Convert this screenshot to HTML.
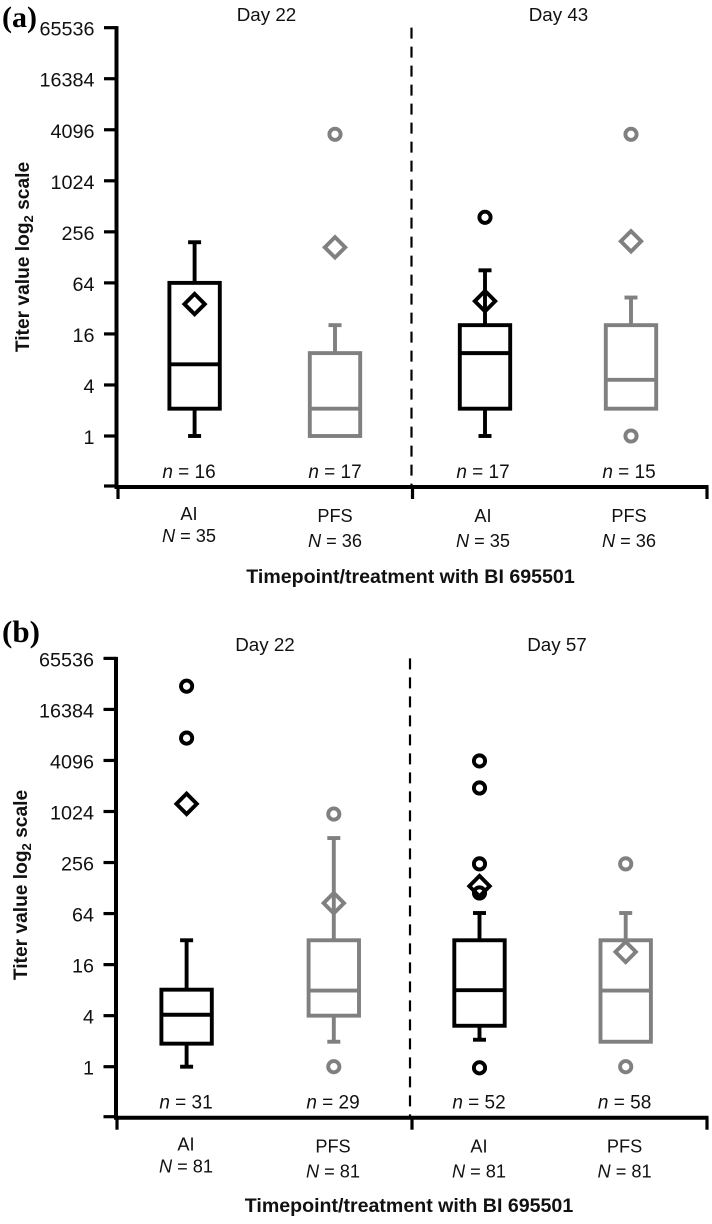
<!DOCTYPE html>
<html lang="en">
<head>
<meta charset="utf-8">
<title>Titer values by timepoint and treatment</title>
<style>
html,body{margin:0;padding:0;background:#fff;width:712px;height:1224px;overflow:hidden}
svg{display:block}
text{font-family:"Liberation Sans",Arial,sans-serif;fill:#111}
</style>
</head>
<body>
<svg id="figure" xmlns="http://www.w3.org/2000/svg" width="712" height="1224" viewBox="0 0 712 1224"></svg>
<script>
// ---- shared data ----
const tickValues = [65536, 16384, 4096, 1024, 256, 64, 16, 4, 1];
const treatments = ['AI', 'PFS', 'AI', 'PFS'];
const seriesTone = ['black', 'gray', 'black', 'gray'];

// ---- panel (a) ----
const aDays = ['Day 22', 'Day 43'];
const aSmallN = [16, 17, 17, 15];
const aBigN = [35, 36, 35, 36];
const aWhiskerLow = [1, 1, 1, 2.1];
const aQ1 = [2.1, 1, 2.1, 2.1];
const aMedian = [7, 2.1, 9.5, 4.6];
const aQ3 = [64, 9.5, 20.3, 20.3];
const aWhiskerHigh = [193, 20.3, 90, 43];
const aMean = [36, 168, 39, 198];
const aOutliers = [[], [3620], [380], [3620, 1]];

// ---- panel (b) ----
const bDays = ['Day 22', 'Day 57'];
const bSmallN = [31, 29, 52, 58];
const bBigN = [81, 81, 81, 81];
const bWhiskerLow = [1, 1.97, 2.08, 1.97];
const bQ1 = [1.87, 4, 3.04, 1.97];
const bMedian = [4.1, 7.9, 8, 7.9];
const bQ3 = [8.1, 31, 31, 31];
const bWhiskerHigh = [31, 498, 65, 65];
const bMean = [1260, 85, 135, 22.6];
const bOutliers = [[30800, 7520], [955, 1], [4040, 1940, 247, 112, 0.97], [247, 1]];

const NS = 'http://www.w3.org/2000/svg';
const svg = document.getElementById('figure');
const BLACK = '#000', GRAY = '#808080', SW = 3.9;

function mk(parent, tag, attrs, txt) {
  const el = document.createElementNS(NS, tag);
  for (const k in attrs) el.setAttribute(k, attrs[k]);
  if (txt !== undefined) el.textContent = txt;
  parent.appendChild(el);
  return el;
}

function yScale(v, p) { return p.yOne - 25.52 * Math.log2(v); }
function xScale(i, p) {
  const offsets = p.id === 'a' ? [3, -3.8, -1, -2.2] : [-4, -4, -5.5, -6.5];
  return p.xLeft + 147.2 * (i + 0.5) + offsets[i];
}
function labelX(i, p) {
  const offsets = p.id === 'a' ? [-2.6, -3.8, -3, -4.2] : [-4.6, -4.8, -6, -7.6];
  return p.xLeft + 147.2 * (i + 0.5) + offsets[i];
}

function drawPanel(p) {
  const g = mk(svg, 'g', {});
  
  

  const panelLabel = mk(g, 'text', {x: 2, y: p.labelY, style: 'font-family:"Liberation Serif",serif;font-weight:bold;font-size:' + p.labelSize + 'px;fill:#000'}, '(' + p.id + ')');
  
  

  // y axis
  const bottomY = p.yOne + 50;
  const yAxis = mk(g, 'line', {x1: p.yAxisX, x2: p.yAxisX, y1: yScale(65536, p) - 1.5, y2: bottomY + 2, stroke: BLACK, 'stroke-width': 4});
  
  

  tickValues.forEach(function (v) {
    const y = yScale(v, p);
    const tick = mk(g, 'line', {x1: p.yAxisX - 12.5, x2: p.yAxisX, y1: y, y2: y, stroke: BLACK, 'stroke-width': 3.2});
    
    
    const lab = mk(g, 'text', {x: p.yAxisX - 22, y: y + 8, 'text-anchor': 'end', 'font-size': 19.8}, String(v));
    
    
  });
  const baseTick = mk(g, 'line', {x1: p.yAxisX - 12.5, x2: p.yAxisX, y1: bottomY, y2: bottomY, stroke: BLACK, 'stroke-width': 3.2});
  
  

  // x axis
  const xAxis = mk(g, 'line', {x1: p.yAxisX - 2, x2: p.xRight + 1.5, y1: bottomY + 1, y2: bottomY + 1, stroke: BLACK, 'stroke-width': 4});
  
  
  [p.xLeft, (p.xLeft + p.xRight) / 2, p.xRight].forEach(function (x) {
    const tick = mk(g, 'line', {x1: x, x2: x, y1: bottomY + 1, y2: bottomY + 13, stroke: BLACK, 'stroke-width': 3.2});
    
    
  });

  // divider
  const divider = mk(g, 'line', {x1: p.dividerX, x2: p.dividerX, y1: yScale(65536, p), y2: bottomY + 1, stroke: BLACK, 'stroke-width': 2.2, 'stroke-dasharray': '11 8'});
  
  

  // day labels
  p.days.forEach(function (d, i) {
    const dl = mk(g, 'text', {x: p.dayX + i * 292, y: p.dayY, 'text-anchor': 'middle', 'font-size': 18.8}, d);
    
    
  });

  // y title
  const yTitle = mk(g, 'text', {transform: 'translate(' + p.yTitleX + ',' + p.titleMid + ') rotate(-90)', 'text-anchor': 'middle', 'font-size': 19.2, 'font-weight': 'bold'});
  
  
  mk(yTitle, 'tspan', {}, 'Titer value log');
  mk(yTitle, 'tspan', {dy: 4, 'font-size': 13}, '2');
  mk(yTitle, 'tspan', {dy: -4}, ' scale');

  // x title
  const xTitle = mk(g, 'text', {x: p.xTitleX, y: p.xTitleY, 'text-anchor': 'middle', 'font-size': 19.6, 'font-weight': 'bold'}, 'Timepoint/treatment with BI 695501');
  
  

  // categories
  treatments.forEach(function (name, i) {
    const color = seriesTone[i] === 'black' ? BLACK : GRAY;
    const cx = xScale(i, p);
    const box = mk(g, 'g', {fill: 'none', stroke: color, 'stroke-width': SW});
    
    

    const yLo = yScale(p.wLow[i], p), yHi = yScale(p.wHigh[i], p);
    const y1 = yScale(p.q1[i], p), y3 = yScale(p.q3[i], p), yM = yScale(p.median[i], p);

    const upper = mk(box, 'line', {x1: cx, x2: cx, y1: y3, y2: yHi});
    
    
    const lower = mk(box, 'line', {x1: cx, x2: cx, y1: y1, y2: yLo});
    
    
    if (p.wHigh[i] > p.q3[i]) {
      const capH = mk(box, 'line', {x1: cx - 6.5, x2: cx + 6.5, y1: yHi, y2: yHi});
      
      
    }
    if (p.wLow[i] < p.q1[i]) {
      const capL = mk(box, 'line', {x1: cx - 6.5, x2: cx + 6.5, y1: yLo, y2: yLo});
      
      
    }

    const rect = mk(box, 'rect', {x: cx - 25.2, y: y3, width: 50.4, height: y1 - y3, fill: '#fff'});
    
    
    const med = mk(box, 'line', {x1: cx - 25.2, x2: cx + 25.2, y1: yM, y2: yM});
    
    

    p.outliers[i].forEach(function (v) {
      const c = mk(box, 'circle', {cx: cx, cy: yScale(v, p), r: 5.6, fill: 'none'});
      
      
    });

    const ym = yScale(p.mean[i], p), d = 10.2;
    const dia = mk(box, 'polygon', {points: [cx, ym - d, cx + d, ym, cx, ym + d, cx - d, ym].join(' '), fill: 'none'});
    
    

    const lx = labelX(i, p);
    const nText = mk(g, 'text', {x: lx, y: bottomY - 8, 'text-anchor': 'middle', 'font-size': 19}, '');
    
    
    mk(nText, 'tspan', {'font-style': 'italic'}, 'n');
    mk(nText, 'tspan', {}, ' = ' + p.smallN[i]);

    const isFirst = i === 0;
    const cat = mk(g, 'text', {x: lx, y: bottomY + (isFirst ? 34 : 36), 'text-anchor': 'middle', 'font-size': 18.2}, name);
    
    
    const bigN = mk(g, 'text', {x: lx, y: bottomY + (isFirst ? 56 : 61), 'text-anchor': 'middle', 'font-size': 18.2}, '');
    
    
    mk(bigN, 'tspan', {'font-style': 'italic'}, 'N');
    mk(bigN, 'tspan', {}, ' = ' + p.bigN[i]);
  });
}

drawPanel({id: 'a', yOne: 436, yAxisX: 116.5, xLeft: 118, xRight: 707, dividerX: 411.5,
  labelY: 27, labelSize: 30, dayX: 266.5, dayY: 21, yTitleX: 29, titleMid: 257, xTitleX: 410.5, xTitleY: 583,
  days: aDays, smallN: aSmallN, bigN: aBigN, wLow: aWhiskerLow, q1: aQ1, median: aMedian,
  q3: aQ3, wHigh: aWhiskerHigh, mean: aMean, outliers: aOutliers});

drawPanel({id: 'b', yOne: 1066.7, yAxisX: 116, xLeft: 117, xRight: 707, dividerX: 410,
  labelY: 642, labelSize: 31, dayX: 265, dayY: 651, yTitleX: 27, titleMid: 885, xTitleX: 409, xTitleY: 1212,
  days: bDays, smallN: bSmallN, bigN: bBigN, wLow: bWhiskerLow, q1: bQ1, median: bMedian,
  q3: bQ3, wHigh: bWhiskerHigh, mean: bMean, outliers: bOutliers});
</script>
</body>
</html>
